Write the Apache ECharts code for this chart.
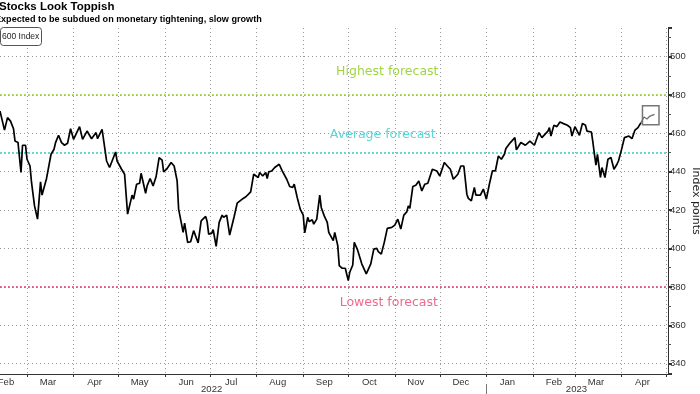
<!DOCTYPE html>
<html><head><meta charset="utf-8">
<script src="https://cdn.jsdelivr.net/npm/echarts@6/dist/echarts.min.js"></script>
<style>html,body{margin:0;padding:0;background:#fff}#c{width:700px;height:394px}</style>
</head><body><div id="c"></div>
<script>
const titleText = 'Stocks Look Toppish';
const subtitleText = 'Expected to be subdued on monetary tightening, slow growth';
const legendText = '600 Index';
const axisName = 'Index points';
const axisStart = [2022, 1, 11];
const axisEnd = [2023, 4, 2];
const monthNames = ['Jan','Feb','Mar','Apr','May','Jun','Jul','Aug','Sep','Oct','Nov','Dec'];
const yearLabelDates = ['2022-07-02', '2023-03-02'];
const yearLabelTexts = ['2022', '2023'];
const yearDividerDate = '2023-01-01';

const dates = [
'2022-02-11','2022-02-14','2022-02-16','2022-02-18','2022-02-20','2022-02-21','2022-02-23','2022-02-25','2022-02-26','2022-02-28',
'2022-03-01','2022-03-02','2022-03-03','2022-03-04','2022-03-06','2022-03-08','2022-03-10','2022-03-11','2022-03-14','2022-03-15',
'2022-03-17','2022-03-19','2022-03-20','2022-03-22','2022-03-24','2022-03-26','2022-03-28','2022-03-30','2022-04-01','2022-04-05',
'2022-04-07','2022-04-10','2022-04-13','2022-04-16','2022-04-17','2022-04-20','2022-04-23','2022-04-25','2022-04-29','2022-04-30',
'2022-05-01','2022-05-03','2022-05-05','2022-05-07','2022-05-10','2022-05-11','2022-05-13','2022-05-15','2022-05-16','2022-05-19',
'2022-05-20','2022-05-22','2022-05-24','2022-05-26','2022-05-28','2022-05-30','2022-05-31','2022-06-02','2022-06-03','2022-06-05',
'2022-06-07','2022-06-09','2022-06-10','2022-06-13','2022-06-14','2022-06-16','2022-06-18','2022-06-20','2022-06-23','2022-06-25',
'2022-06-28','2022-06-29','2022-06-30','2022-07-02','2022-07-03','2022-07-05','2022-07-07','2022-07-09','2022-07-10','2022-07-12',
'2022-07-14','2022-07-17','2022-07-19','2022-07-20','2022-07-23','2022-07-25','2022-07-26','2022-07-28','2022-07-30','2022-08-02',
'2022-08-03','2022-08-05','2022-08-07','2022-08-08','2022-08-09','2022-08-11','2022-08-13','2022-08-16','2022-08-18','2022-08-19',
'2022-08-21','2022-08-23','2022-08-25','2022-08-26','2022-08-28','2022-08-30','2022-09-01','2022-09-02','2022-09-04','2022-09-05',
'2022-09-07','2022-09-08','2022-09-10','2022-09-12','2022-09-13','2022-09-15','2022-09-17','2022-09-18','2022-09-19','2022-09-21',
'2022-09-22','2022-09-24','2022-09-25','2022-09-27','2022-09-29','2022-10-01','2022-10-02','2022-10-04','2022-10-05','2022-10-07',
'2022-10-10','2022-10-13','2022-10-16','2022-10-18','2022-10-20','2022-10-21','2022-10-23','2022-10-25','2022-10-27','2022-10-30',
'2022-11-01','2022-11-03','2022-11-05','2022-11-07','2022-11-09','2022-11-10','2022-11-11','2022-11-13','2022-11-15','2022-11-17',
'2022-11-19','2022-11-21','2022-11-23','2022-11-26','2022-11-29','2022-12-01','2022-12-04','2022-12-06','2022-12-08','2022-12-10',
'2022-12-13','2022-12-15','2022-12-17','2022-12-19','2022-12-20','2022-12-22','2022-12-24','2022-12-25','2022-12-28','2022-12-30',
'2023-01-01','2023-01-03','2023-01-05','2023-01-07','2023-01-09','2023-01-11','2023-01-13','2023-01-14','2023-01-17','2023-01-20',
'2023-01-21','2023-01-24','2023-01-27','2023-01-30','2023-02-02','2023-02-03','2023-02-05','2023-02-06','2023-02-07','2023-02-11',
'2023-02-12','2023-02-13','2023-02-15','2023-02-17','2023-02-19','2023-02-21','2023-02-24','2023-02-26','2023-02-27','2023-03-01',
'2023-03-04','2023-03-06','2023-03-08','2023-03-09','2023-03-12','2023-03-13','2023-03-14','2023-03-15','2023-03-16','2023-03-18',
'2023-03-19','2023-03-21','2023-03-23','2023-03-25','2023-03-27','2023-03-29','2023-03-30','2023-04-01','2023-04-03','2023-04-06',
'2023-04-08','2023-04-10','2023-04-12','2023-04-14'
];
const values = [
471.6,461.7,468.2,466.4,462.4,456.0,455.2,439.6,453.8,453.8,
446.5,447.4,443.0,434.4,422.2,415.3,434.7,427.8,436.5,435.8,
449.1,451.7,455.2,459.0,455.2,453.8,454.8,462.4,456.9,463.5,
456.9,461.2,457.2,460.4,457.2,462.1,445.6,442.2,450.3,445.6,
446.5,441.3,438.7,417.9,427.8,425.7,433.5,434.0,439.2,428.8,
432.6,436.5,432.6,437.5,447.4,446.1,439.9,441.3,440.4,444.8,
443.0,435.2,420.5,408.4,413.2,403.2,403.5,409.3,402.9,414.4,
416.7,414.0,407.5,407.9,409.8,401.1,413.6,417.4,416.2,417.4,
407.0,416.7,423.6,423.1,426.1,427.1,426.6,429.5,438.7,437.0,
439.6,437.8,439.6,436.5,439.9,440.4,442.2,443.9,440.4,441.3,
436.1,432.3,431.8,433.5,426.6,420.5,417.4,408.1,416.2,414.0,
415.0,412.7,415.3,427.8,421.4,417.0,413.6,408.4,407.5,404.1,
408.4,401.5,391.1,389.7,389.7,383.3,387.6,391.4,403.2,399.7,
392.0,386.8,392.0,399.7,400.1,398.4,397.1,403.2,410.5,411.0,
412.2,415.3,410.1,417.4,419.1,422.2,420.9,432.3,433.0,435.2,
430.0,433.5,434.0,441.3,440.4,437.8,444.8,443.0,441.3,436.1,
438.7,443.0,443.0,428.3,426.1,424.9,431.8,427.8,427.8,431.0,
425.7,433.5,440.4,440.4,448.2,446.5,449.1,452.1,455.2,457.8,
451.4,455.2,453.8,456.0,453.8,454.3,460.4,461.2,457.8,461.2,
463.0,458.6,464.2,463.5,465.9,465.2,464.2,463.0,458.6,463.5,
459.0,465.2,464.2,461.2,460.7,455.2,449.1,443.4,449.1,437.0,
442.2,437.0,446.5,447.4,441.3,443.9,445.6,451.4,457.8,458.6,
457.2,461.7,463.0,465.6
];
const recentDates = ['2023-04-14','2023-04-16','2023-04-18','2023-04-20','2023-04-21','2023-04-23'];
const recentValues = [465.6, 468.5, 467.5, 469.0, 468.4, 469.9];
const highlightDates = ['2023-04-15', '2023-04-26'];
const highlightValues = [474.4, 464.5];

const forecastNames = ['Highest forecast', 'Average forecast', 'Lowest forecast'];
const forecastValues = [480, 450, 380];

// ---- axis categories (one per calendar day)
function fmt(t){ return new Date(t).toISOString().slice(0,10); }
const cats = [];
for (let t = Date.UTC(...axisStart); t <= Date.UTC(...axisEnd); t += 86400000) cats.push(fmt(t));
const idx = d => cats.indexOf(d);

const forecastColors = ['#99cc33', '#33cccc', '#e8406e'];
const forecastLabelColors = ['#9fd63f', '#5cd6d6', '#ee6a8c'];
const forecastLabelPos = [['2022-10-27', 492], ['2022-10-24', 459.5], ['2022-10-28', 371.7]];

const font = 'Liberation Sans Narrow, Liberation Sans, sans-serif';

const chart = echarts.init(document.getElementById('c'), null, {renderer: 'canvas'});
chart.setOption({
  animation: false,
  backgroundColor: '#fff',
  title: [
    {text: titleText, left: -1, top: 1, padding: 0,
     textStyle: {fontSize: 11.5, fontWeight: 'bold', color: '#000', fontFamily: 'Liberation Sans'}},
    {text: subtitleText, left: -5, top: 15, padding: 0,
     textStyle: {fontSize: 9.1, fontWeight: 'bold', color: '#000', fontFamily: 'Liberation Sans'}},
    {text: legendText, left: 0, top: 27, padding: [5, 2, 5, 2],
     borderWidth: 1, borderColor: '#555', borderRadius: 3, backgroundColor: '#fff',
     textStyle: {fontSize: 8.5, fontWeight: 'normal', color: '#222', fontFamily: font}}
  ],
  grid: {left: 0, right: 32, top: 28, bottom: 20, containLabel: false, outerBoundsMode: 'none'},
  xAxis: [
    {type: 'category', data: cats, boundaryGap: false,
     axisLine: {show: true, lineStyle: {color: '#333', width: 1}},
     axisTick: {show: true, interval: (i, v) => v.slice(8) === '01', length: 3, lineStyle: {color: '#333'}},
     axisLabel: {show: true, interval: (i, v) => v.slice(8) === '15',
       formatter: v => monthNames[+v.slice(5, 7) - 1], fontSize: 9.5, color: '#333', margin: 3, fontFamily: font},
     splitLine: {show: true, interval: (i, v) => v.slice(8) === '01', lineStyle: {color: '#999', type: [1, 3], width: 1}}},
    {type: 'category', data: cats, boundaryGap: false, position: 'bottom', offset: 10,
     axisLine: {show: false},
     axisTick: {show: true, interval: (i, v) => v === yearDividerDate, length: 10, lineStyle: {color: '#777'}},
     axisLabel: {show: true, interval: (i, v) => yearLabelDates.includes(v),
       formatter: v => yearLabelTexts[yearLabelDates.indexOf(v)], fontSize: 9.5, color: '#333', margin: 0, fontFamily: font},
     splitLine: {show: false}}
  ],
  yAxis: {
    type: 'value', position: 'right', min: 334.6, max: 514.9, splitNumber: 9,
    axisLine: {show: true, lineStyle: {color: '#333', width: 1}},
    axisTick: {show: true, length: 4, lineStyle: {color: '#333', width: 2}},
    minorTick: {show: true, splitNumber: 2, length: 3, lineStyle: {color: '#555'}},
    axisLabel: {show: true, showMinLabel: false, showMaxLabel: false, fontSize: 9.5, color: '#333', margin: 2, fontFamily: font},
    splitLine: {show: true, showMinLine: false, showMaxLine: false, lineStyle: {color: '#999', type: [1, 3], width: 1}},
    name: axisName, nameLocation: 'middle', nameRotate: -90, nameGap: 22, nameMoveOverlap: false,
    nameTextStyle: {fontSize: 11, color: '#222', fontFamily: 'DejaVu Sans'}
  },
  series: [
    {type: 'line', name: legendText, xAxisIndex: 0, yAxisIndex: 0, showSymbol: false, symbol: 'none',
     data: dates.map((d, i) => [idx(d), values[i]]),
     lineStyle: {color: '#000', width: 1.7}, z: 5,
     markLine: {silent: true, symbol: 'none', animation: false, label: {show: false},
       data: forecastValues.map((v, i) => ({yAxis: v, lineStyle: {color: forecastColors[i], type: [2, 2], width: 1.5}}))},
     markPoint: {silent: true, animation: false,
       data: forecastNames.map((n, i) => ({coord: [idx(forecastLabelPos[i][0]), forecastLabelPos[i][1]],
         symbol: 'circle', symbolSize: 1, itemStyle: {color: 'rgba(0,0,0,0)'},
         label: {show: true, position: 'inside', formatter: n, color: forecastLabelColors[i], fontSize: 12.5, fontFamily: 'DejaVu Sans'}}))}
    },
    {type: 'line', xAxisIndex: 0, yAxisIndex: 0, showSymbol: false, symbol: 'none',
     data: recentDates.map((d, i) => [idx(d), recentValues[i]]),
     lineStyle: {color: '#6e6e6e', width: 1.3}, z: 6,
     markArea: {silent: true, animation: false,
       itemStyle: {color: 'rgba(0,0,0,0)', borderColor: '#777', borderWidth: 1.5},
       data: [[{coord: [idx(highlightDates[0]), highlightValues[0]]}, {coord: [idx(highlightDates[1]), highlightValues[1]]}]]}
    }
  ]
});
</script></body></html>
